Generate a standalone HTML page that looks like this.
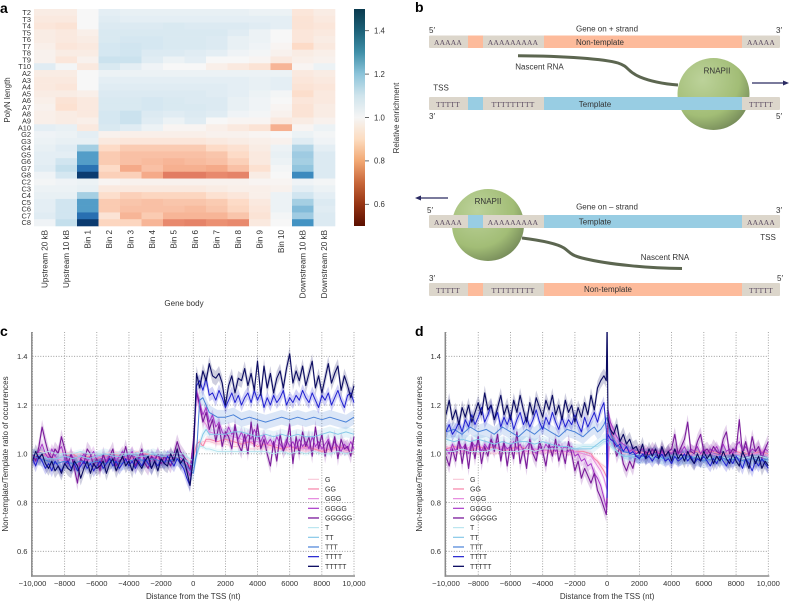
<!DOCTYPE html>
<html lang="en">
<head>
<meta charset="utf-8">
<title>PolyN enrichment figure</title>
<style>
html,body{margin:0;padding:0;background:#fff}
svg{display:block;font-family:"Liberation Sans",sans-serif;filter:blur(0.35px)}
text{fill:#333}
.seq{font-family:"Liberation Serif",serif;font-size:7.5px;fill:#5a4a60;text-anchor:middle;letter-spacing:.2px}
.lab{font-size:8px;text-anchor:middle}
.panel{font-size:14px;font-weight:bold;fill:#000}
</style>
</head>
<body>
<svg id="fig" xmlns="http://www.w3.org/2000/svg" width="789" height="601" viewBox="0 0 789 601">
<defs>
<linearGradient id="cbar" x1="0" y1="0" x2="0" y2="1">
<stop offset="0" stop-color="#0a3a4e"/><stop offset=".1" stop-color="#1c6178"/><stop offset=".2" stop-color="#3f8fa8"/><stop offset=".3" stop-color="#8cc4da"/><stop offset=".4" stop-color="#cfe4ec"/><stop offset=".5" stop-color="#f5f5f5"/><stop offset=".6" stop-color="#fcdcc0"/><stop offset=".7" stop-color="#f2a873"/><stop offset=".8" stop-color="#c8673a"/><stop offset=".9" stop-color="#963413"/><stop offset="1" stop-color="#5a0f00"/>
</linearGradient>
<radialGradient id="sphere" cx=".35" cy=".3" r=".85">
<stop offset="0" stop-color="#bcd29a"/><stop offset=".6" stop-color="#a2bd76"/><stop offset="1" stop-color="#66794f"/>
</radialGradient>
<clipPath id="clip-c"><rect x="32" y="332" width="324" height="244"/></clipPath>
<clipPath id="clip-d"><rect x="446" y="332" width="324" height="244"/></clipPath>
</defs>

<text class="panel" x="0" y="13">a</text>
<text class="panel" x="415" y="12">b</text>
<text class="panel" x="0" y="336">c</text>
<text class="panel" x="415" y="336">d</text>

<g id="heatmap"></g>
<text class="lab" transform="translate(10,100) rotate(-90)">PolyN length</text>
<text class="lab" x="184" y="306">Gene body</text>
<rect x="354" y="9" width="11" height="217" fill="url(#cbar)"/>
<g id="cbar-ticks"></g>
<text class="lab" transform="translate(399,118) rotate(-90)">Relative enrichment</text>

<g id="diagram">
  <g>
    <rect x="429" y="35.5" width="351" height="12.5" rx="1" fill="#dcd6cb"/>
    <rect x="468" y="35.5" width="15" height="12.5" fill="#fdbb9b"/>
    <rect x="544" y="35.5" width="198" height="12.5" fill="#fdbb9b"/>
  </g>
  <circle cx="713.5" cy="94" r="36" fill="url(#sphere)"/>
  <g>
    <rect x="429" y="97" width="351" height="13" rx="1" fill="#dcd6cb"/>
    <rect x="468" y="97" width="15" height="13" fill="#98cde3"/>
    <rect x="544" y="97" width="198" height="13" fill="#98cde3"/>
  </g>
  <path d="M518 55.7C565 56 605 59 618 63C630 67 626 71 640 77C652 82 665 84 678 85" fill="none" stroke="#5c6650" stroke-width="3"/>
  <path d="M752 83H785" stroke="#2a2a62" stroke-width="1.2"/>
  <path d="M789 83L783 80.5V85.5Z" fill="#2a2a62"/>

  <text class="seq" x="448" y="45">AAAAA</text>
  <text class="seq" x="513" y="45">AAAAAAAAA</text>
  <text class="seq" x="761" y="45">AAAAA</text>
  <text class="seq" x="448" y="107">TTTTT</text>
  <text class="seq" x="513" y="107">TTTTTTTTT</text>
  <text class="seq" x="761" y="107">TTTTT</text>

  <text class="lab" x="607" y="31.5">Gene on + strand</text>
  <text class="lab" x="600" y="45">Non-template</text>
  <text class="lab" x="595" y="107">Template</text>
  <text class="lab" x="539.5" y="69.5">Nascent RNA</text>
  <text class="lab" x="717" y="73.5">RNAPII</text>
  <text class="lab" x="441" y="90.5">TSS</text>
  <text class="lab" x="432" y="33">5′</text>
  <text class="lab" x="779" y="33">3′</text>
  <text class="lab" x="432" y="119">3′</text>
  <text class="lab" x="779" y="119">5′</text>

  <circle cx="488" cy="225" r="36" fill="url(#sphere)"/>
  <g>
    <rect x="429" y="215" width="351" height="13" rx="1" fill="#dcd6cb"/>
    <rect x="468" y="215" width="15" height="13" fill="#98cde3"/>
    <rect x="544" y="215" width="198" height="13" fill="#98cde3"/>
  </g>
  <g>
    <rect x="429" y="283" width="351" height="13" rx="1" fill="#dcd6cb"/>
    <rect x="468" y="283" width="15" height="13" fill="#fdbb9b"/>
    <rect x="544" y="283" width="198" height="13" fill="#fdbb9b"/>
  </g>
  <path d="M522 238C538 240 556 243 564 248C570 252 570 255 582 258C610 265 650 268 682 268.5" fill="none" stroke="#5c6650" stroke-width="3"/>
  <path d="M419 198H448" stroke="#2a2a62" stroke-width="1.2"/>
  <path d="M415 198L421 195.5V200.5Z" fill="#2a2a62"/>

  <text class="seq" x="448" y="225">AAAAA</text>
  <text class="seq" x="513" y="225">AAAAAAAAA</text>
  <text class="seq" x="761" y="225">AAAAA</text>
  <text class="seq" x="448" y="293">TTTTT</text>
  <text class="seq" x="513" y="293">TTTTTTTTT</text>
  <text class="seq" x="761" y="293">TTTTT</text>

  <text class="lab" x="607" y="209.5">Gene on – strand</text>
  <text class="lab" x="595" y="224.5">Template</text>
  <text class="lab" x="608" y="292">Non-template</text>
  <text class="lab" x="665" y="260">Nascent RNA</text>
  <text class="lab" x="488" y="204">RNAPII</text>
  <text class="lab" x="768" y="240">TSS</text>
  <text class="lab" x="430" y="213">5′</text>
  <text class="lab" x="779" y="213">3′</text>
  <text class="lab" x="432" y="281">3′</text>
  <text class="lab" x="780" y="281">5′</text>
</g>

<g id="chart-c"></g>
<g id="chart-d"></g>
</svg>

<script>
var heatColumns = ["Upstream 20 kB","Upstream 10 kB","Bin 1","Bin 2","Bin 3","Bin 4","Bin 5","Bin 6","Bin 7","Bin 8","Bin 9","Bin 10","Downstream 10 kB","Downstream 20 kB"];
var heatRows = ["T2","T3","T4","T5","T6","T7","T8","T9","T10","A2","A3","A4","A5","A6","A7","A8","A9","A10","G2","G3","G4","G5","G6","G7","G8","C2","C3","C4","C5","C6","C7","C8"];
var heatValues = [
[.96,.96,1.0,1.05,1.04,1.04,1.04,1.04,1.04,1.04,1.03,1.03,.94,.96],
[.95,.95,1.0,1.06,1.05,1.05,1.05,1.05,1.05,1.05,1.05,1.05,.93,.95],
[.94,.93,1.0,1.07,1.07,1.07,1.08,1.07,1.07,1.07,1.06,1.05,.93,.94],
[.96,.95,.97,1.08,1.08,1.08,1.08,1.08,1.08,1.06,1.03,1.0,.94,.95],
[.96,.95,.96,1.08,1.09,1.09,1.08,1.08,1.07,1.04,1.03,1.0,.94,.96],
[.97,.94,.95,1.09,1.10,1.09,1.08,1.08,1.07,1.04,1.02,.99,.90,.95],
[.98,.96,.96,1.09,1.10,1.07,1.07,1.06,1.05,1.02,1.01,.98,.96,.97],
[.98,.94,.98,1.11,1.11,1.06,1.03,1.05,1.0,1.0,.99,.95,.97,.98],
[1.06,1.01,.95,1.08,1.05,1.02,1.0,1.0,.97,.95,.93,.83,.99,1.03],
[.96,.96,1.0,1.03,1.03,1.03,1.03,1.03,1.03,1.03,1.03,1.03,.95,.96],
[.95,.95,1.0,1.05,1.05,1.05,1.05,1.05,1.05,1.05,1.04,1.05,.94,.95],
[.95,.94,1.0,1.06,1.06,1.06,1.06,1.06,1.06,1.05,1.04,1.05,.93,.94],
[.96,.96,.97,1.07,1.07,1.07,1.07,1.07,1.06,1.05,1.03,1.01,.91,.95],
[.97,.93,.95,1.08,1.08,1.09,1.08,1.07,1.07,1.04,1.02,1.0,.94,.95],
[.98,.92,.95,1.08,1.08,1.09,1.08,1.08,1.07,1.04,1.02,.99,.93,.96],
[.97,.96,.95,1.09,1.11,1.07,1.06,1.07,1.06,1.02,1.01,.98,.93,.96],
[.97,.96,.97,1.09,1.11,1.06,1.03,1.06,1.0,.99,.99,.95,.96,.98],
[1.05,1.04,.95,1.08,1.06,1.03,.99,.99,.97,.95,.93,.82,.99,1.03],
[1.02,1.03,1.05,.98,.97,.97,.97,.97,.98,.98,.99,1.0,1.03,1.01],
[1.03,1.04,1.04,.95,.94,.94,.94,.94,.95,.96,.97,.98,1.06,1.02],
[1.04,1.06,1.17,.9,.87,.87,.87,.87,.9,.92,.96,1.03,1.15,1.05],
[1.05,1.05,1.28,.87,.85,.85,.85,.85,.86,.9,.95,1.04,1.18,1.07],
[1.05,1.1,1.28,.87,.85,.84,.83,.84,.85,.88,.95,1.03,1.17,1.07],
[1.06,1.12,1.37,.9,.81,.85,.82,.82,.81,.85,.92,1.01,1.2,1.07],
[1.02,1.09,1.48,.88,.88,.81,.74,.74,.76,.75,.96,1.0,1.32,1.07],
[1.01,1.02,1.03,.99,.98,.98,.98,.98,.98,.98,.99,.99,1.02,1.01],
[1.03,1.03,1.04,.95,.95,.95,.95,.95,.96,.97,.97,.98,1.05,1.03],
[1.04,1.04,1.17,.91,.88,.89,.89,.89,.92,.94,.97,1.03,1.10,1.05],
[1.05,1.1,1.28,.87,.86,.85,.86,.86,.87,.9,.95,1.03,1.17,1.07],
[1.05,1.1,1.28,.87,.85,.85,.85,.84,.86,.89,.94,1.03,1.22,1.06],
[1.06,1.1,1.38,.93,.83,.87,.83,.83,.83,.86,.93,1.01,1.18,1.07],
[1.02,1.12,1.48,.89,.89,.83,.76,.75,.77,.76,.95,1.0,1.3,1.07]
];
var colorbarTicks = [0.6,0.8,1.0,1.2,1.4];

var seriesNames = ["G","GG","GGG","GGGG","GGGGG","T","TT","TTT","TTTT","TTTTT"];
var xTickValues = [-10000,-8000,-6000,-4000,-2000,0,2000,4000,6000,8000,10000];
var xTickLabels = ["−10,000","−8000","−6000","−4000","−2000","0","2000","4000","6000","8000","10,000"];
var yTickValues = [0.6,0.8,1.0,1.2,1.4];
var yTickLabels = ["0.6","0.8","1.0","1.2","1.4"];
var seriesBands = [0.008,0.012,0.016,0.022,0.03,0.01,0.022,0.03,0.026,0.03];

var distanceCoarse = [-10000,-9500,-9000,-8500,-8000,-7500,-7000,-6500,-6000,-5500,-5000,-4500,-4000,-3500,-3000,-2500,-2000,-1500,-1000,-800,-600,-400,-200,0,200,400,600,800,1000,1500,2000,2500,3000,3500,4000,4500,5000,5500,6000,6500,7000,7500,8000,8500,9000,9500,10000];
var distanceFineC = [-10000,-9800,-9600,-9400,-9200,-9000,-8800,-8600,-8400,-8200,-8000,-7800,-7600,-7400,-7200,-7000,-6800,-6600,-6400,-6200,-6000,-5800,-5600,-5400,-5200,-5000,-4800,-4600,-4400,-4200,-4000,-3800,-3600,-3400,-3200,-3000,-2800,-2600,-2400,-2200,-2000,-1800,-1600,-1400,-1200,-1000,-800,-600,-400,-200,0,200,400,600,800,1000,1200,1400,1600,1800,2000,2200,2400,2600,2800,3000,3200,3400,3600,3800,4000,4200,4400,4600,4800,5000,5200,5400,5600,5800,6000,6200,6400,6600,6800,7000,7200,7400,7600,7800,8000,8200,8400,8600,8800,9000,9200,9400,9600,9800,10000];
var distanceFineD = [-10000,-9800,-9600,-9400,-9200,-9000,-8800,-8600,-8400,-8200,-8000,-7800,-7600,-7400,-7200,-7000,-6800,-6600,-6400,-6200,-6000,-5800,-5600,-5400,-5200,-5000,-4800,-4600,-4400,-4200,-4000,-3800,-3600,-3400,-3200,-3000,-2800,-2600,-2400,-2200,-2000,-1800,-1600,-1400,-1200,-1000,-800,-600,-400,-200,-50,0,50,200,400,600,800,1000,1200,1400,1600,1800,2000,2200,2400,2600,2800,3000,3200,3400,3600,3800,4000,4200,4400,4600,4800,5000,5200,5400,5600,5800,6000,6200,6400,6600,6800,7000,7200,7400,7600,7800,8000,8200,8400,8600,8800,9000,9200,9400,9600,9800,10000];

var cG = [1.00,1.01,1.00,1.00,1.01,1.00,1.00,.99,1.00,1.00,1.01,1.00,1.00,1.01,1.00,1.00,1.00,1.00,.99,.99,.98,.98,.97,.99,1.02,1.04,1.05,1.05,1.05,1.04,1.04,1.03,1.03,1.02,1.02,1.02,1.02,1.02,1.01,1.02,1.01,1.02,1.01,1.01,1.02,1.01,1.01];
var cGG = [.99,1.00,.99,.98,.99,1.00,.98,.99,.98,.99,1.00,.99,.98,.99,1.00,.99,.98,.99,.99,.98,.97,.96,.95,.98,1.04,1.05,1.03,1.06,1.06,1.05,1.06,1.05,1.04,1.05,1.03,1.04,1.03,1.02,1.03,1.02,1.03,1.02,1.01,1.02,1.03,1.02,1.01];
var cGGG = [.99,.98,1.00,.98,.97,.99,.98,.97,.99,.98,.99,.98,.97,.99,.98,.99,.97,.98,.99,.98,.97,.96,.94,.97,1.24,1.18,1.14,1.12,1.09,1.08,1.08,1.07,1.06,1.05,1.05,1.04,1.04,1.03,1.03,1.03,1.02,1.03,1.02,1.02,1.02,1.02,1.01];
var cGGGG = [.99,.97,1.01,1.04,1.00,.98,1.02,.99,1.01,1.03,.98,.96,1.00,.97,.95,.98,1.00,.97,.99,1.01,.97,.96,.99,.97,1.00,.98,.97,.99,1.01,.97,.99,1.01,.98,.97,1.00,.98,.97,.99,.98,1.00,.98,.97,.99,1.00,.98,1.01,.99,.97,.94,.91,1.02,1.26,1.21,1.16,1.19,1.13,1.16,1.11,1.13,1.09,1.07,1.11,1.08,1.10,1.06,1.09,1.05,1.08,1.06,1.10,1.07,1.05,1.08,1.04,1.06,1.03,1.07,1.04,1.02,1.06,1.03,1.05,1.02,1.06,1.03,1.05,1.02,1.07,1.03,1.05,1.02,1.04,1.06,1.02,1.05,1.03,1.01,1.04,1.02,1.05,1.02];
var cGGGGG = [1.00,.97,1.03,1.11,1.05,1.00,.98,1.02,1.00,1.07,1.02,.96,1.00,.94,.88,.98,.96,1.02,1.00,.95,.98,.93,1.00,.96,.99,1.02,.95,.97,.98,1.03,.97,1.00,.95,.98,1.02,.96,.94,.99,.97,1.00,.96,.99,.97,.95,1.00,1.05,1.01,.99,.97,.93,1.05,1.25,1.20,1.13,1.17,1.10,1.14,1.05,1.12,1.03,1.09,1.07,1.02,1.12,1.04,1.01,1.08,1.00,1.13,1.03,1.12,1.02,1.06,1.00,.95,1.05,.97,1.08,1.01,1.04,1.12,.96,1.07,1.00,1.09,1.03,1.07,.99,1.11,1.02,1.08,.99,1.05,1.01,1.07,.98,1.06,1.02,1.03,.99,1.07];
var cT = [1.00,1.00,1.01,1.00,1.00,1.00,1.01,1.00,1.00,1.00,1.00,1.00,1.00,1.00,1.01,1.00,1.00,1.00,1.00,1.00,1.00,.99,.98,.97,1.00,1.03,1.03,1.02,1.02,1.01,1.01,1.01,1.01,1.01,1.01,1.01,1.00,1.01,1.00,1.01,1.00,1.01,1.00,1.00,1.01,1.00,1.01];
var cTT = [1.00,.99,.98,.98,.99,.98,.99,.98,.99,1.00,.99,.99,1.00,.99,.99,1.00,.99,.99,.99,.99,.98,.97,.96,.95,.99,1.04,1.08,1.10,1.08,1.08,1.08,1.09,1.09,1.08,1.07,1.08,1.07,1.08,1.07,1.08,1.07,1.07,1.08,1.09,1.08,1.09,1.08];
var cTTT = [.99,.98,.97,.96,.97,.96,.97,.96,.97,.96,.97,.96,.97,.98,.97,.98,.97,.97,.98,.97,.96,.95,.93,.92,1.00,1.22,1.23,1.20,1.17,1.15,1.15,1.16,1.14,1.15,1.14,1.13,1.14,1.15,1.14,1.15,1.14,1.15,1.14,1.15,1.14,1.13,1.15];
var cTTTT = [.98,.95,.99,.97,.94,.96,.93,.97,.95,.93,.96,.97,.94,.96,.93,.95,.97,.94,.96,.93,.95,.97,.94,.96,.98,.95,.97,.94,.96,.98,.95,.97,.94,.97,.95,.98,.96,.94,.97,.95,.98,.96,.99,.97,.95,.98,.96,.94,.90,.87,1.00,1.28,1.30,1.26,1.31,1.24,1.25,1.22,1.26,1.23,1.19,1.22,1.25,1.21,1.24,1.20,1.23,1.25,1.21,1.26,1.22,1.25,1.19,1.23,1.20,1.24,1.21,1.23,1.26,1.20,1.23,1.21,1.24,1.22,1.26,1.23,1.21,1.25,1.22,1.19,1.24,1.22,1.25,1.20,1.23,1.26,1.22,1.19,1.24,1.25,1.21];
var cTTTTT = [.97,1.01,.98,1.00,.96,.94,.97,.93,.95,.92,.96,.94,.93,.97,.95,.90,.94,.97,.92,.96,.94,.95,.97,.92,.96,.98,.93,.96,.99,.95,.97,.93,.98,.96,.94,.97,.99,.94,.97,.93,.98,.96,.95,1.00,.97,1.02,.96,.98,.93,.87,.98,1.33,1.27,1.34,1.30,1.37,1.32,1.31,1.33,1.29,1.20,1.28,1.32,1.25,1.31,1.30,1.35,1.28,1.33,1.26,1.38,1.24,1.36,1.27,1.33,1.25,1.31,1.34,1.27,1.35,1.41,1.29,1.34,1.30,1.36,1.28,1.33,1.38,1.27,1.32,1.25,1.31,1.37,1.29,1.33,1.36,1.26,1.32,1.28,1.23,1.28];

var dG = [1.01,1.00,1.01,1.01,1.00,1.01,1.00,1.01,1.01,1.00,1.01,1.00,1.01,1.00,1.01,1.00,1.00,1.00,.99,.98,.97,.96,.95,.94,1.05,1.03,1.02,1.01,1.00,1.00,1.01,1.00,1.00,1.00,1.01,1.00,1.00,1.00,1.00,1.01,1.00,1.00,1.00,1.01,1.00,1.00,1.00];
var dGG = [1.02,1.03,1.02,1.01,1.03,1.02,1.03,1.01,1.02,1.03,1.02,1.01,1.02,1.01,1.02,1.02,1.01,1.01,1.00,.98,.97,.95,.93,.90,1.10,1.06,1.04,1.03,1.02,1.01,1.01,1.00,1.01,1.00,1.01,1.00,1.00,1.01,1.00,1.01,1.00,1.00,1.01,1.00,1.00,1.01,1.00];
var dGGG = [1.01,1.02,1.01,1.03,1.02,1.01,1.02,1.03,1.01,1.02,1.01,1.02,1.01,1.02,1.01,1.01,1.01,1.00,.99,.97,.95,.93,.90,.85,1.12,1.08,1.05,1.03,1.02,1.01,1.00,1.01,1.00,1.00,1.01,1.00,1.00,.99,1.00,1.00,.99,1.00,1.00,.99,1.00,1.00,.99];
var dGGGG = [1.02,1.00,1.04,1.01,1.05,1.02,1.04,1.00,1.05,1.03,1.05,1.01,1.04,1.02,1.06,1.03,1.05,1.01,1.04,1.02,1.03,1.05,1.02,1.04,1.01,1.03,1.05,1.02,1.00,1.03,1.01,1.04,1.02,1.03,1.01,1.04,1.02,1.03,1.01,1.03,.99,1.00,.97,.98,.95,.96,.92,.90,.87,.82,.78,.85,1.18,1.13,1.10,1.07,1.05,1.04,1.03,1.01,1.02,1.00,1.01,1.02,1.00,1.01,1.00,1.02,1.00,1.01,.99,1.01,1.00,1.02,1.00,1.01,1.03,1.00,1.02,1.01,1.03,1.00,1.02,1.00,1.02,1.01,1.03,1.00,1.04,1.01,1.02,1.00,1.03,1.05,1.01,1.03,1.00,1.02,1.01,1.03,1.00,1.02,1.01];
var dGGGGG = [.99,.95,1.02,.97,1.06,.96,1.04,.94,1.05,.98,1.07,.96,1.03,.99,1.06,1.01,1.08,.97,1.05,.95,1.04,.98,1.09,.96,1.02,.94,1.06,1.00,.97,1.05,1.01,.95,1.04,.99,1.06,.97,1.02,.96,1.05,1.00,.93,.97,.90,.94,.91,.88,.92,.85,.82,.78,.75,.80,1.15,1.10,1.05,.99,1.03,.96,.93,.97,.94,1.00,1.01,.99,1.01,.99,1.02,1.00,.98,1.02,.99,1.01,1.02,1.08,1.00,1.03,1.06,1.13,1.01,1.00,1.05,1.08,1.01,1.02,1.00,1.03,1.01,1.00,1.06,1.09,1.00,1.02,1.01,1.14,1.00,1.05,.99,1.07,1.01,1.03,.98,1.02,1.05];
var dT = [1.01,1.01,1.02,1.01,1.01,1.01,1.02,1.01,1.01,1.01,1.02,1.01,1.02,1.02,1.02,1.02,1.02,1.03,1.03,1.03,1.03,1.04,1.05,1.05,1.03,1.02,1.01,1.00,.99,.99,1.00,.99,.99,.98,.99,.99,.98,.99,.99,.98,.99,.98,.99,.98,.99,.99,.98];
var dTT = [1.06,1.05,1.06,1.05,1.06,1.05,1.04,1.05,1.04,1.05,1.05,1.04,1.05,1.04,1.03,1.03,1.02,1.02,1.02,1.03,1.04,1.05,1.06,1.06,1.05,1.03,1.01,1.00,.99,.99,.98,.99,.98,.98,.99,.98,.98,.99,.98,.98,.97,.98,.98,.97,.98,.98,.97];
var dTTT = [1.09,1.10,1.08,1.11,1.09,1.10,1.08,1.11,1.09,1.07,1.10,1.08,1.11,1.09,1.07,1.10,1.09,1.07,1.10,1.11,1.09,1.10,1.12,1.15,1.08,1.06,1.04,1.02,1.01,1.00,.99,.99,1.00,.98,.99,.98,.99,.98,.97,.98,.99,.97,.98,.97,.98,.97,.98];
var dTTTT = [1.09,1.12,1.08,1.10,1.13,1.09,1.14,1.11,1.16,1.12,1.15,1.19,1.13,1.16,1.20,1.14,1.17,1.11,1.15,1.12,1.16,1.10,1.14,1.17,1.12,1.15,1.11,1.14,1.18,1.13,1.10,1.15,1.12,1.17,1.13,1.10,1.15,1.11,1.14,1.12,1.16,1.12,1.09,1.15,1.11,1.14,1.17,1.13,1.18,1.21,1.10,.82,1.08,1.06,1.05,1.03,1.04,1.01,1.03,1.00,1.01,.99,.98,1.00,.98,.99,.97,.99,.98,1.00,.97,.98,.96,.99,.97,.98,1.00,.97,.99,.96,.98,.97,.99,.97,.95,.98,.96,.99,.97,.95,.98,.96,.99,.97,.94,.98,.96,.93,.97,.95,.98,.96,.94];
var dTTTTT = [1.16,1.22,1.14,1.18,1.12,1.19,1.15,1.20,1.13,1.17,1.21,1.16,1.25,1.18,1.20,1.14,1.19,1.24,1.16,1.20,1.14,1.22,1.17,1.24,1.18,1.13,1.21,1.16,1.23,1.19,1.15,1.22,1.18,1.24,1.16,1.20,1.14,1.22,1.17,1.20,1.13,1.19,1.15,1.21,1.16,1.24,1.18,1.27,1.30,1.32,1.30,1.55,1.14,1.10,1.08,1.12,1.05,1.08,1.04,1.06,1.02,1.03,1.00,1.04,.98,1.02,.99,1.02,.98,1.03,.99,1.01,.97,1.02,.98,1.00,.97,1.01,.98,.96,1.00,.97,1.01,.98,1.00,.96,.99,.97,1.01,.98,.96,1.00,.97,.95,1.01,.98,.94,1.00,.96,.99,.94,.97,.95];

var seriesColors = ["#f8c6d6","#f783a8","#e58adf","#a838c8","#7a1a9a","#b4e4ee","#86c8e8","#4a82d8","#2020d0","#0a0a60"];
var seriesWidths = [0.9,1,1,1,1.1,0.9,1,1,1,1.1];
var NS = "http://www.w3.org/2000/svg";

function mk(tag, attrs, parent, txt) {
  var el = document.createElementNS(NS, tag);
  for (var k in attrs) el.setAttribute(k, attrs[k]);
  if (txt !== undefined) el.textContent = txt;
  parent.appendChild(el);
  return el;
}

var rdbuStops = ["#67001f","#b2182b","#d6604d","#f4a582","#fddbc7","#f7f7f7","#d1e5f0","#92c5de","#4393c3","#2166ac","#053061"];
function heatColor(v) {
  var t = Math.max(0, Math.min(0.9999, (v - 0.5) / 1.0)) * 10;
  var i = Math.floor(t), f = t - i;
  var a = rdbuStops[i], b = rdbuStops[i + 1], out = "rgb(";
  for (var c = 0; c < 3; c++) {
    var p = parseInt(a.substr(1 + c * 2, 2), 16), q = parseInt(b.substr(1 + c * 2, 2), 16);
    out += Math.round(p + (q - p) * f) + (c < 2 ? "," : ")");
  }
  return out;
}

(function drawHeatmap() {
  var g = document.getElementById("heatmap");
  var x0 = 34, y0 = 9, w = 301 / heatColumns.length, h = 217 / heatRows.length;
  heatRows.forEach(function (row, r) {
    heatColumns.forEach(function (col, c) {
      var cell = mk("rect", {x: x0 + c * w, y: y0 + r * h, width: w + 0.3, height: h + 0.3, fill: heatColor(heatValues[r][c])}, g);
      
      
    });
    var lab = mk("text", {x: 31, y: y0 + (r + 0.5) * h + 2.6, "text-anchor": "end", "font-size": 7.4}, g, row);
    
    
  });
  heatColumns.forEach(function (col, c) {
    var cx = x0 + (c + 0.5) * w + 2.8;
    var lab = mk("text", {transform: "translate(" + cx + ",230) rotate(-90)", "text-anchor": "end", "font-size": 8.1}, g, col);
    
    
  });
  var t = document.getElementById("cbar-ticks");
  colorbarTicks.forEach(function (v) {
    var y = 226 - (v - 0.5) * 217;
    var tick = mk("line", {x1: 365, x2: 369, y1: y, y2: y, stroke: "#444", "stroke-width": 0.8}, t);
    
    
    var lab = mk("text", {x: 374, y: y + 2.8, "font-size": 7.8}, t, v.toFixed(1));
    
    
  });
})();

function drawLineChart(o) {
  var g = document.getElementById(o.id);
  function sx(d) { return o.x0 + (d + 10000) / 20000 * (o.x1 - o.x0); }
  function sy(v) { return 453.8 - (v - 1) / 0.2 * 48.75; }

  xTickValues.forEach(function (d, i) {
    var gl = mk("line", {x1: sx(d), x2: sx(d), y1: 332, y2: 576, stroke: "#8f8f8f", "stroke-width": 0.8, "stroke-dasharray": "1 1.6"}, g);
    
    
    var lab = mk("text", {x: sx(d), y: 586, "text-anchor": "middle", "font-size": 7.6}, g, xTickLabels[i]);
    
    
  });
  yTickValues.forEach(function (v, i) {
    var gl = mk("line", {x1: o.x0, x2: o.x1, y1: sy(v), y2: sy(v), stroke: "#8f8f8f", "stroke-width": 0.8, "stroke-dasharray": "1 1.6"}, g);
    
    
    var lab = mk("text", {x: o.x0 - 5, y: sy(v) + 2.7, "text-anchor": "end", "font-size": 7.6}, g, yTickLabels[i]);
    
    
  });

  var plot = mk("g", {"clip-path": "url(#clip-" + o.key + ")"}, g);
  
  

  o.values.forEach(function (vals, s) {
    var xs = o.xs[s], up = "", dn = [], bw = seriesBands[s];
    vals.forEach(function (v, i) {
      up += (i ? "L" : "M") + sx(xs[i]).toFixed(1) + " " + sy(v + bw).toFixed(1);
      dn.unshift("L" + sx(xs[i]).toFixed(1) + " " + sy(v - bw).toFixed(1));
    });
    var band = mk("path", {d: up + dn.join("") + "Z", fill: seriesColors[s], opacity: 0.2, stroke: "none"}, plot);
    
    
  });
  o.values.forEach(function (vals, s) {
    var xs = o.xs[s], d = "";
    vals.forEach(function (v, i) {
      d += (i ? "L" : "M") + sx(xs[i]).toFixed(1) + " " + sy(v).toFixed(1);
    });
    var line = mk("path", {d: d, fill: "none", stroke: seriesColors[s], "stroke-width": seriesWidths[s], "stroke-linejoin": "round"}, plot);
    
    
  });

  var axisL = mk("line", {x1: o.x0 - 0.7, x2: o.x0 - 0.7, y1: 332, y2: 576.7, stroke: "#8a8a8a", "stroke-width": 1.5}, g);
  
  
  var axisB = mk("line", {x1: o.x0 - 1.4, x2: o.x1 + 1, y1: 576, y2: 576, stroke: "#8a8a8a", "stroke-width": 1.5}, g);
  
  

  var yt = mk("text", {transform: "translate(" + o.yTitleX + ",454) rotate(-90)", "text-anchor": "middle", "font-size": 8}, g, "Non-template/Template ratio of occurrences");
  
  
  var xt = mk("text", {x: sx(0), y: 599, "text-anchor": "middle", "font-size": 8}, g, "Distance from the TSS (nt)");
  
  

  seriesNames.forEach(function (n, s) {
    var y = 479.3 + s * 9.67;
    var ln = mk("line", {x1: o.legX, x2: o.legX + 11, y1: y, y2: y, stroke: seriesColors[s], "stroke-width": seriesWidths[s] + 0.2}, g);
    
    
    var tx = mk("text", {x: o.legX + 17, y: y + 2.5, "font-size": 7}, g, n);
    
    
  });
}

drawLineChart({
  id: "chart-c", key: "c", x0: 32.5, x1: 354, yTitleX: 8, legX: 308,
  values: [cG, cGG, cGGG, cGGGG, cGGGGG, cT, cTT, cTTT, cTTTT, cTTTTT],
  xs: [distanceCoarse, distanceCoarse, distanceCoarse, distanceFineC, distanceFineC, distanceCoarse, distanceCoarse, distanceCoarse, distanceFineC, distanceFineC]
});
drawLineChart({
  id: "chart-d", key: "d", x0: 446, x1: 768.3, yTitleX: 422, legX: 453,
  values: [dG, dGG, dGGG, dGGGG, dGGGGG, dT, dTT, dTTT, dTTTT, dTTTTT],
  xs: [distanceCoarse, distanceCoarse, distanceCoarse, distanceFineD, distanceFineD, distanceCoarse, distanceCoarse, distanceCoarse, distanceFineD, distanceFineD]
});
</script>
</body>
</html>
